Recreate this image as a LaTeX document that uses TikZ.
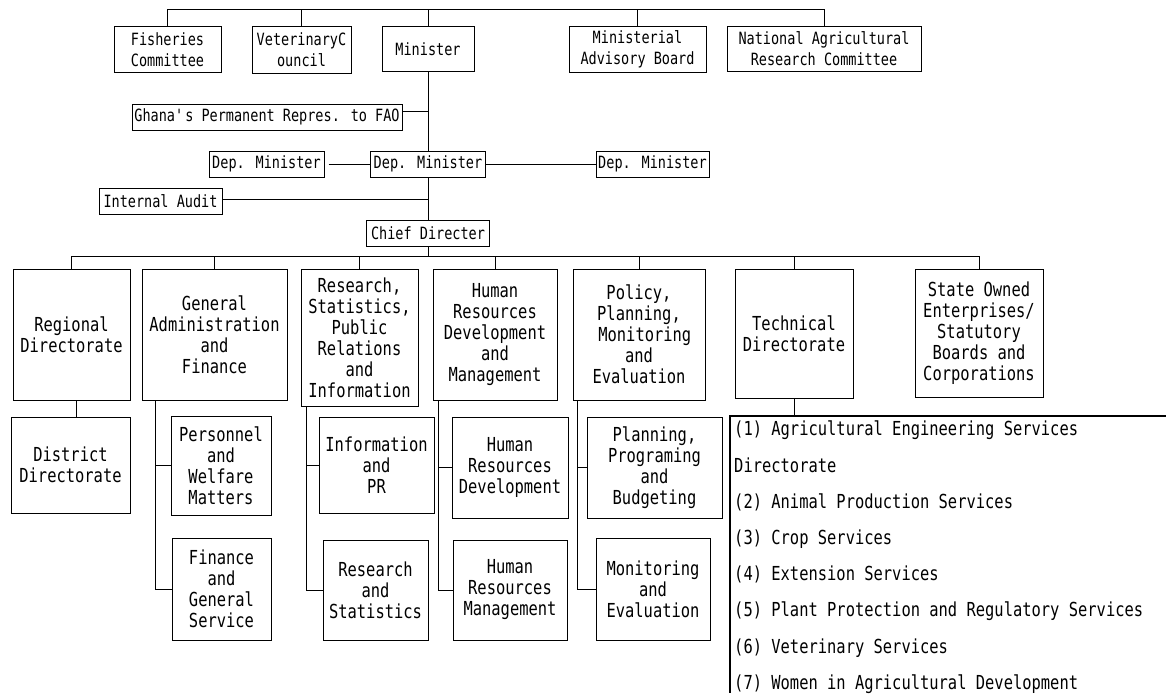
\documentclass[tikz,border=0pt]{standalone}
\usepackage{fontspec}
\setmainfont{DejaVu Sans Mono}[FakeStretch=0.8]
\newcommand{\topfont}{\fontsize{16.9}{21}\selectfont}
\newcommand{\lowfont}{\fontsize{19.3}{21}\selectfont}
\usetikzlibrary{calc}

\begin{document}
\begin{tikzpicture}[x=1pt,y=-1pt,
		orgbox/.style n args={2}{draw,line width=1pt,align=center,inner sep=0pt,
			minimum width=#1,minimum height=#2},
		topbox/.style 2 args={orgbox={#1}{#2},font=\topfont},
		lowbox/.style 2 args={orgbox={#1}{#2},font=\lowfont},
		link/.style={line width=1pt},
		listtext/.style={align=left,inner sep=0pt,font=\fontsize{19.3}{36.2}\selectfont}]
		\useasboundingbox (0,0) rectangle (1166,693);

		% Minister and committees
		\node[topbox={107pt}{45pt}] (fish) at (167.5,49.5) {Fisheries\\Committee};
		\node[topbox={99pt}{46pt}] (vet) at (301.5,50) {VeterinaryC\\ouncil};
		\node[topbox={92pt}{44pt}] (minister) at (428,49) {Minister};
		\node[topbox={137pt}{45pt}] (mab) at (637.5,49.5) {Ministerial\\Advisory Board};
		\node[topbox={194pt}{44pt}] (narc) at (824,49) {National Agricultural\\Research Committee};
		\coordinate (topbus) at (0,10);
		\draw[link] (fish.north) |- (topbus -| narc.north) -- (narc.north);
		\draw[link] (vet.north) -- (vet.north |- topbus);
		\draw[link] (minister.north) -- (minister.north |- topbus);
		\draw[link] (mab.north) -- (mab.north |- topbus);

		% Staff line
		\node[topbox={270pt}{26pt}] (ghana) at (267,117) {Ghana\textquotesingle s Permanent Repres. to FAO};
		\node[topbox={115pt}{26pt}] (depleft) at (266.5,164) {Dep. Minister};
		\node[topbox={115pt}{26pt}] (depmid) at (428,164) {Dep. Minister};
		\node[topbox={113pt}{26pt}] (depright) at (652.5,164) {Dep. Minister};
		\node[topbox={123pt}{26pt}] (audit) at (160.5,201) {Internal Audit};
		\node[topbox={123pt}{26pt}] (chief) at (428,233) {Chief Directer};
		\draw[link] (minister.south) -- (depmid.north);
		\draw[link] (depmid.south) -- (chief.north);
		\draw[link] ([yshift=6pt]ghana.east) -- ([yshift=6pt]ghana.east -| minister.south);
		\draw[link,shorten <=4pt] (depleft.east) -- (depmid.west);
		\draw[link] (depmid.east) -- (depright.west);
		\draw[link] ([yshift=2pt]audit.east) -- ([yshift=2pt]audit.east -| chief.north);

		% Directorates
		\node[lowbox={117pt}{131pt}] (regional) at (71.5,334.5) {Regional\\Directorate};
		\node[lowbox={145pt}{131pt}] (genadmin) at (214.5,334.5) {General\\Administration\\and\\Finance};
		\node[lowbox={117pt}{137pt}] (research) at (359.5,337.5) {Research,\\Statistics,\\Public\\Relations\\and\\Information};
		\node[lowbox={124pt}{131pt}] (hrdm) at (495,334.5) {Human\\Resources\\Development\\and\\Management};
		\node[lowbox={132pt}{131pt}] (policy) at (639,334.5) {Policy,\\Planning,\\\hspace*{0.6em}Monitoring\\and\\Evaluation};
		\node[lowbox={118pt}{129pt}] (tech) at (794,333.5) {Technical\\Directorate};
		\node[lowbox={128pt}{128pt}] (state) at (979,333) {State Owned\\Enterprises/\\Statutory\\Boards and\\Corporations};
		\coordinate (lowbus) at (0,256);
		\draw[link] (chief.south) -- (chief.south |- lowbus);
		\draw[link] (regional.north) |- (lowbus -| state.north) -- (state.north);
		\draw[link] (genadmin.north) -- (genadmin.north |- lowbus);
		\draw[link] (research.north) -- (research.north |- lowbus);
		\draw[link] (hrdm.north) -- (hrdm.north |- lowbus);
		\draw[link] (policy.north) -- (policy.north |- lowbus);
		\draw[link] (tech.north) -- (tech.north |- lowbus);

		% Sub-units
		\node[lowbox={119pt}{96pt}] (district) at (70.5,465) {District\\Directorate};
		\node[lowbox={100pt}{99pt}] (personnel) at (221,465.5) {Personnel\\and\\Welfare\\Matters};
		\node[lowbox={99pt}{102pt}] (finance) at (221.5,589) {Finance\\and\\General\\Service};
		\node[lowbox={115pt}{96pt}] (infopr) at (376.5,465) {Information\\and\\PR};
		\node[lowbox={105pt}{100pt}] (resstat) at (375.5,590) {Research\\and\\Statistics};
		\node[lowbox={116pt}{101pt}] (hrdev) at (510,467.5) {Human\\Resources\\Development};
		\node[lowbox={114pt}{100pt}] (hrman) at (510,590) {Human\\Resources\\Management};
		\node[lowbox={135pt}{101pt}] (planning) at (654.5,467.5) {Planning,\\Programing\\and\\Budgeting};
		\node[lowbox={114pt}{102pt}] (monitoring) at (653,589) {Monitoring\\and\\Evaluation};
		\coordinate (gaspine) at ([xshift=14pt]genadmin.south west);
		\coordinate (rsspine) at ([xshift=6pt]research.south west);
		\coordinate (hrspine) at ([xshift=6pt]hrdm.south west);
		\coordinate (ppspine) at ([xshift=5pt]policy.south west);
		\draw[link] ([xshift=5pt]regional.south) -- ([xshift=5pt]regional.south |- district.north);
		\draw[link] (gaspine) |- (finance.west);
		\draw[link] (personnel.west) -- (personnel.west -| gaspine);
		\draw[link] (rsspine) |- (resstat.west);
		\draw[link] (infopr.west) -- (infopr.west -| rsspine);
		\draw[link] (hrspine) |- (hrman.west);
		\draw[link] (hrdev.west) -- (hrdev.west -| hrspine);
		\draw[link] (ppspine) |- (monitoring.west);
		\draw[link] (planning.west) -- (planning.west -| ppspine);

		% Technical services list
		\coordinate (listtop) at (730,416);
		\node[listtext,anchor=north west] (techlist) at (734,421)
			{(1) Agricultural Engineering Services\\Directorate\\(2) Animal Production Services\\(3) Crop Services\\(4) Extension Services\\(5) Plant Protection and Regulatory Services\\(6) Veterinary Services\\(7) Women in Agricultural Development};
		\draw[line width=2pt] (1166,416) -- (listtop) -- (730,693);
		\draw[link] (tech.south) -- (tech.south |- listtop);
	\end{tikzpicture}
\end{document}
